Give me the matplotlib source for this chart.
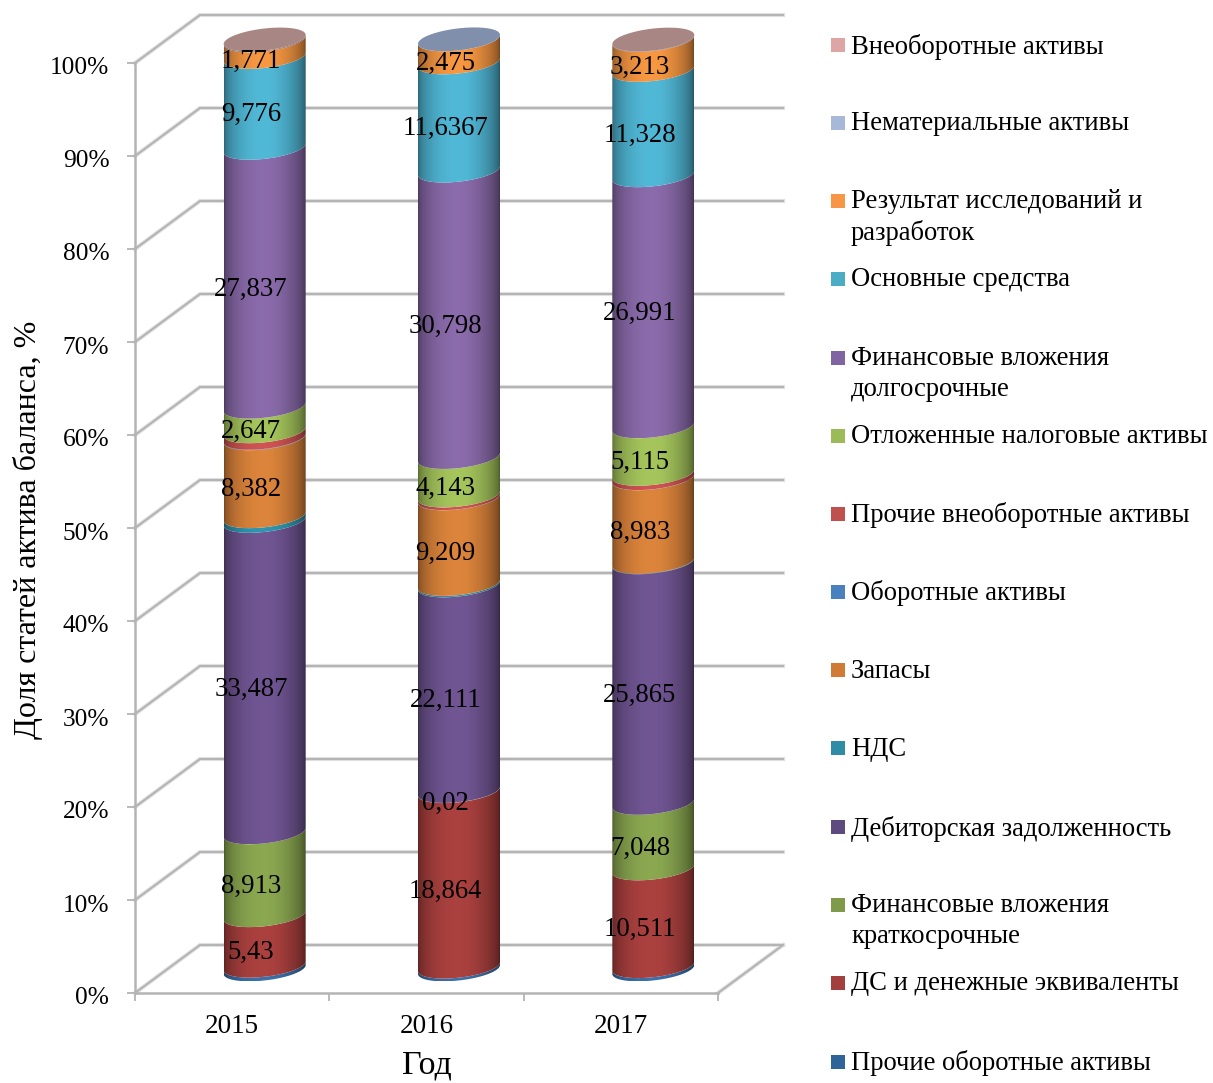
import matplotlib
matplotlib.use("Agg")
import matplotlib.pyplot as plt
import numpy as np
from matplotlib.path import Path
from matplotlib.patches import PathPatch, Rectangle
from matplotlib.transforms import ScaledTranslation

plt.rcParams["font.family"] = ["Liberation Serif", "DejaVu Serif"]

W, H = 1213, 1083

years = ["2015", "2016", "2017"]
series_names = [
    "Прочие оборотные активы",
    "ДС и денежные эквиваленты",
    "Финансовые вложения\nкраткосрочные",
    "Дебиторская задолженность",
    "НДС",
    "Запасы",
    "Оборотные активы",
    "Прочие внеоборотные активы",
    "Отложенные налоговые активы",
    "Финансовые вложения\nдолгосрочные",
    "Основные средства",
    "Результат исследований и\nразработок",
    "Нематериальные активы",
    "Внеоборотные активы",
]

prochie_oborotnye = [0.40, 0.30, 0.35]
ds = [5.43, 18.864, 10.511]
fin_kratk = [8.913, 0.02, 7.048]
debitorka = [33.487, 22.111, 25.865]
nds = [0.50, 0.15, 0.05]
zapasy = [8.382, 9.209, 8.983]
oborotnye = [0.05, 0.02, 0.02]
prochie_vneob = [0.70, 0.28, 0.46]
otlozh = [2.647, 4.143, 5.115]
fin_dolg = [27.837, 30.798, 26.991]
osnovnye = [9.776, 11.6367, 11.328]
rezultat = [1.771, 2.475, 3.213]
nemater = [0.0, 0.01, 0.0]
vneob = [0.107, 0.0, 0.06]

values = [prochie_oborotnye, ds, fin_kratk, debitorka, nds, zapasy, oborotnye,
          prochie_vneob, otlozh, fin_dolg, osnovnye, rezultat, nemater, vneob]
labelled = [False, True, True, True, False, True, False,
            False, True, True, True, True, False, False]

colors = ["#3A6EA8", "#A8403E", "#88A54F", "#6E5490", "#2F93AC", "#D8823A", "#4A80BD",
          "#CC5250", "#A2C25A", "#8869A8", "#4FB5D3", "#F39541", "#8090AC", "#A88684"]
legend_colors = ["#2F6499", "#A33F3D", "#7F9A48", "#5F4A80", "#2E8CA5", "#D07A33", "#4A80BD",
                 "#C0504D", "#9BBB59", "#8064A2", "#4BACC6", "#F79646", "#A7B8D8", "#DDA5A3"]
cap_index = [13, 12, 13]

fig = plt.figure(figsize=(W / 100, H / 100), dpi=100)
ax = fig.add_axes([135 / W, 1 - 993 / H, 583 / W, 930 / H])
ax.set_xlim(-0.5, 2.5)
ax.set_ylim(0, 100)

px_x = 583 / 3
px_y = 9.3

# back wall and floor of the 3d box
GRID = "#B4B4B4"
dx = 65 / px_x
dy = 48 / px_y
for level in range(0, 101, 10):
    xs = [-0.5, -0.5 + dx, 2.5 + dx]
    ys = [level, level + dy, level + dy]
    ax.plot(xs, ys, color="#E2E2E2", lw=3.0, clip_on=False, zorder=1, solid_joinstyle="miter")
    ax.plot(xs, ys, color=GRID, lw=1.5, clip_on=False, zorder=1.1, solid_joinstyle="miter")
ax.plot([2.5, 2.5 + dx], [0, dy], color="#E2E2E2", lw=3.0, clip_on=False, zorder=1)
ax.plot([2.5, 2.5 + dx], [0, dy], color=GRID, lw=1.5, clip_on=False, zorder=1.1)

for side in ["top", "right"]:
    ax.spines[side].set_visible(False)
for side in ["left", "bottom"]:
    ax.spines[side].set_color(GRID)
    ax.spines[side].set_linewidth(1.8)

ax.set_yticks(range(0, 101, 10))
ax.set_yticklabels([f"{v}%" for v in range(0, 101, 10)], fontsize=18.3)
ax.set_xticks(range(3))
ax.set_xticklabels(years, fontsize=19.5)
ax.set_xticks([-0.5, 0.5, 1.5, 2.5], minor=True)
ax.tick_params(axis="x", which="major", length=0, pad=15)
ax.tick_params(axis="x", which="minor", length=6, width=1.3, color=GRID)
ax.tick_params(axis="y", length=6, width=1.3, color=GRID, pad=12.5)
ax.patch.set_alpha(0)
for lab in ax.get_yticklabels():
    lab.set_transform(lab.get_transform() + ScaledTranslation(0, -3 / 100, fig.dpi_scale_trans))

# cylinder geometry
half_w = 41 / px_x
shift_x = 32.5 / px_x
base = 2.53
tilt = 4.5 / px_y
flat = 11 / px_y


def arc(cx, level, t):
    return cx + half_w * np.cos(t), base + level + tilt * np.cos(t) + flat * np.sin(t)


def shaded(color):
    rgb = np.array(matplotlib.colors.to_rgb(color))
    u = np.linspace(0, 1, 120)
    shade = 0.55 + 0.47 * np.sin(np.pi * u ** 0.95) ** 0.55
    shade[u > 0.6] -= (u[u > 0.6] - 0.6) * 0.18
    return np.clip(rgb[None, None, :] * shade[None, :, None], 0, 1)


def draw_face(xs, ys, color, z):
    verts = np.column_stack([xs, ys])
    clip = PathPatch(Path(np.vstack([verts, verts[:1]])), transform=ax.transData)
    im = ax.imshow(shaded(color), aspect="auto", zorder=z,
                   extent=(xs.min(), xs.max(), ys.min(), ys.max()), interpolation="bilinear")
    im.set_clip_path(clip)
    # the caps rise above the 100% line, so only the path may clip
    im.set_clip_box(fig.bbox)


lower = np.linspace(np.pi, 2 * np.pi, 80)
for i in range(len(years)):
    cx = i + shift_x
    cum = 0.0
    for s, vals in enumerate(values):
        v = vals[i]
        if v <= 0:
            continue
        x_a, y_a = arc(cx, cum, lower)
        x_b, y_b = arc(cx, cum + v, lower[::-1])
        draw_face(np.r_[x_a, x_b], np.r_[y_a, y_b], colors[s], 3 + s * 0.01)
        if labelled[s]:
            ax.text(i + 19 / px_x, cum + v / 2 + 1.2, str(v).replace(".", ","),
                    ha="center", va="center", fontsize=19.3, color="black", zorder=6, clip_on=False)
        cum += v
    t = np.linspace(0, 2 * np.pi, 160)
    x_c, y_c = arc(cx, cum, t)
    ax.fill(x_c, y_c, color=colors[cap_index[i]], lw=0, zorder=4, clip_on=False)

ax.set_xlim(-0.5, 2.5)
ax.set_ylim(0, 100)

fig.text(28 / W, 1 - 530 / H, "Доля статей актива баланса, %", rotation=90,
         ha="center", va="center", fontsize=23)
fig.text(427 / W, 1 - 1065 / H, "Год", ha="center", va="center", fontsize=24.5)

# legend, top row is the last series
legend_y = [45, 123, 201, 279, 358, 436, 514, 592, 670, 748, 827, 905, 983, 1062]
for y, name, c in zip(legend_y, series_names[::-1], legend_colors[::-1]):
    fig.add_artist(Rectangle((831 / W, 1 - (y + 7) / H), 14 / W, 14 / H, color=c,
                             lw=0, transform=fig.transFigure))
    fig.text(851 / W, 1 - (y - 11.5) / H, name, ha="left", va="top", fontsize=19.2, linespacing=1.3)

fig.savefig("out.png", dpi=100)
